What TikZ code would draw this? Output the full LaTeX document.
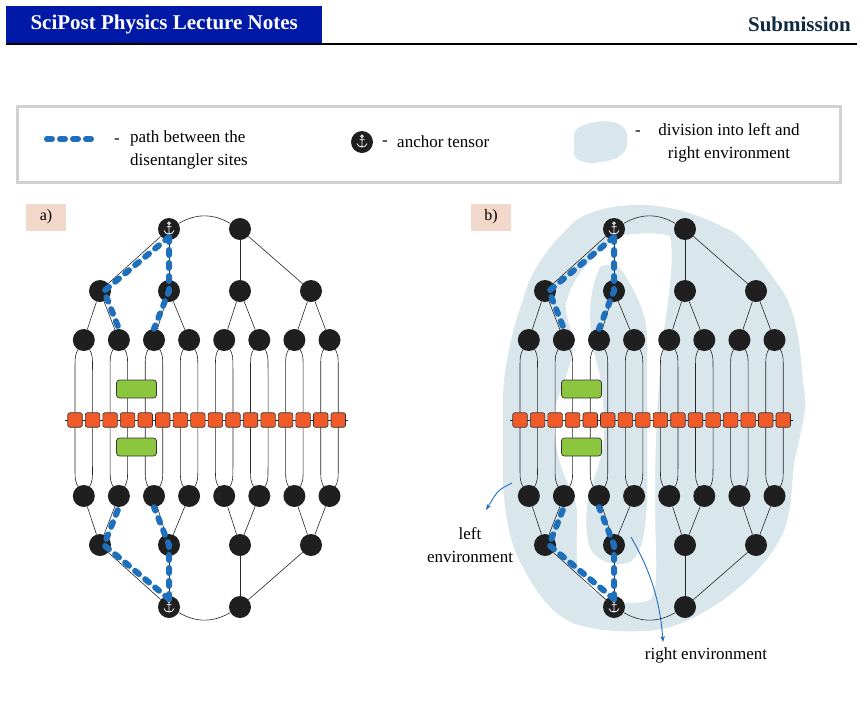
\documentclass[tikz,border=0pt]{standalone}
\usepackage{fontspec}
\setmainfont{Liberation Serif}
\usetikzlibrary{arrows.meta}
\begin{document}
\begin{tikzpicture}[x=1pt,y=-1pt,
  tn/.style={circle,fill=black!88,minimum size=22pt,inner sep=0pt},
  sq/.style={rounded corners=2pt,draw=black!80,line width=0.6pt,minimum size=14.5pt,inner sep=0pt},
  gb/.style={rounded corners=3pt,draw=black!80,line width=0.7pt,minimum width=40pt,minimum height=18pt,inner sep=0pt},
  edge/.style={black!85,line width=0.6pt},
  bp/.style={line width=6pt,color=bluep,dash pattern=on 5pt off 8pt,line cap=round},
  lab/.style={fill=pinkb,minimum width=40pt,minimum height=27pt,inner sep=0pt,font=\fontsize{16}{18}\selectfont},
  txt/.style={font=\fontsize{17}{23}\selectfont,inner sep=0pt},
  anchorpic/.pic={\draw[white,line width=0.8pt] (0,-5.8) circle(1.3) (0,-4.5)--(0,5.5) (-2.5,-2.3)--(2.5,-2.3) (-5,1.5) .. controls (-4.5,6) and (4.5,6) .. (5,1.5);}
]
\definecolor{bluep}{HTML}{1F70BC}
\definecolor{pinkb}{HTML}{F2D7CB}
\definecolor{envc}{HTML}{D9E6EC}
\definecolor{hdr}{HTML}{0019A6}
\definecolor{subc}{HTML}{102A43}
\definecolor{sqc}{HTML}{F05A28}
\definecolor{grc}{HTML}{8CC63F}
\tikzset{sq/.append style={fill=sqc},gb/.append style={fill=grc}}
\useasboundingbox[fill=white] (0,0) rectangle (863,702);
% header
\node[fill=hdr,minimum width=316pt,minimum height=37pt,inner sep=0pt,anchor=north west,text=white,font=\fontsize{21}{23}\bfseries] (hd) at (6,6) {SciPost Physics Lecture Notes};
\draw[line width=1.5pt] (6,44) -- (857,44);
\node[anchor=east,text=subc,font=\fontsize{21}{23}\bfseries,inner sep=0pt] (sub) at (851,24) {Submission};
% legend
\node[draw=black!18,line width=2.5pt,minimum width=823pt,minimum height=76pt,anchor=north west,inner sep=0pt] (leg) at (16,105) {};
\coordinate (ls) at (47,139); \coordinate (le) at (92,139);
\draw[bp] (ls) -- (le);
\node[txt] (d1) at (117,141) {-};
\node[txt,anchor=west,align=left] (t1) at (130,150) {path between the\\disentangler sites};
\node[tn,minimum size=22pt] (lan) at (362,142) {};
\pic at (lan) {anchorpic};
\node[txt] (d2) at (385,143) {-};
\node[txt,anchor=west] (t2) at (397,142) {anchor tensor};
\fill[envc] (578,128) .. controls (595,118) and (625,118) .. (627,135) .. controls (630,152) and (620,160) .. (600,162) .. controls (585,165) and (572,160) .. (574,150) .. controls (576,140) and (570,135) .. (578,128);
\node[txt] (d3) at (638,133) {-};
\node[txt,align=center] (t3) at (729,143) {division into left and\\right environment};
% environment region b
\fill[envc] (640,205) .. controls (610,205) and (585,212) .. (573,223) .. controls (550,245) and (530,270) .. (523,300) .. controls (512,330) and (503,370) .. (503,400) .. controls (503,440) and (503,465) .. (503,483) .. controls (505,520) and (512,550) .. (523,567) .. controls (540,600) and (555,615) .. (573,623) .. controls (600,633) and (635,632) .. (657,630) .. controls (685,625) and (705,612) .. (723,600) .. controls (750,580) and (770,560) .. (783,533) .. controls (795,505) and (790,470) .. (797,450) .. controls (803,420) and (808,410) .. (803,383) .. controls (800,340) and (795,305) .. (777,283) .. controls (760,260) and (745,235) .. (723,227) .. controls (700,215) and (670,205) .. (640,205) -- cycle;
\fill[white] (623,235) .. controls (640,233) and (660,232) .. (670,236) .. controls (675,260) and (668,300) .. (664,330) .. controls (658,380) and (655,440) .. (655,500) .. controls (655,550) and (660,590) .. (650,600) .. controls (635,605) and (615,603) .. (605,597) .. controls (590,590) and (578,580) .. (577,560) .. controls (576,530) and (580,510) .. (573,495) .. controls (560,470) and (553,440) .. (554,420) .. controls (555,395) and (570,375) .. (573,350) .. controls (575,330) and (562,315) .. (567,300) .. controls (575,270) and (605,245) .. (623,235) -- cycle;
\fill[envc] (600,267) .. controls (610,262) and (620,266) .. (625,275) .. controls (640,300) and (648,320) .. (647,340) .. controls (647,400) and (648,460) .. (647,500) .. controls (646,530) and (642,555) .. (630,562) .. controls (615,568) and (595,560) .. (590,548) .. controls (584,530) and (586,505) .. (590,490) .. controls (597,470) and (604,455) .. (604,430) .. controls (604,400) and (602,380) .. (596,360) .. controls (590,335) and (585,300) .. (600,267) -- cycle;
% environment labels
\node[txt,align=center] (lenv) at (470,545) {left\\environment};
\coordinate (la1) at (512,483); \coordinate (la2) at (486,510);
\draw[bluep,line width=0.9pt,-{Stealth[length=6pt]}] (la1) .. controls (498,490) .. (la2);
\node[txt] (renv) at (706,655) {right environment};
\coordinate (ra1) at (631,537); \coordinate (ra2) at (663,642);
\draw[bluep,line width=0.9pt,-{Stealth[length=6pt]}] (ra1) .. controls (650,570) and (660,600) .. (ra2);
% panels
\foreach \p/\o in {a/0pt,b/445pt}{
\begin{scope}[xshift=\o]
\node[lab] (\p lab) at (46,217) {\p)};
\draw[edge] (65,420) -- (348,420);
\foreach \k in {0,...,7}{
  \pgfmathsetmacro\nx{83.8+35.1*\k}
  \pgfmathsetmacro\sl{75+35.1*\k}
  \pgfmathsetmacro\sr{\sl+17.55}
  \draw[edge] (\nx-5,348) .. controls (\sl,355) .. (\sl,372) -- (\sl,464) .. controls (\sl,481) .. (\nx-5,488);
  \draw[edge] (\nx+5,348) .. controls (\sr,355) .. (\sr,372) -- (\sr,464) .. controls (\sr,481) .. (\nx+5,488);
  \node[tn] (\p u\k) at (\nx,340) {};
  \node[tn] (\p d\k) at (\nx,496) {};
}
\foreach \k in {0,...,15}{ \node[sq] (\p s\k) at (75+17.55*\k,420) {}; }
\node[gb] (\p g1) at (136.5,389) {};
\node[gb] (\p g2) at (136.5,447) {};
\foreach \j/\x in {0/100,1/169,2/240,3/311}{
  \node[tn] (\p m\j) at (\x,291) {};
  \node[tn] (\p n\j) at (\x,545) {};
}
\node[tn] (\p t0) at (169,229) {};
\node[tn] (\p t1) at (240,229) {};
\node[tn] (\p b0) at (169,607) {};
\node[tn] (\p b1) at (240,607) {};
\foreach \j/\a/\b in {0/0/1,1/2/3,2/4/5,3/6/7}{
  \draw[edge] (\p m\j) -- (\p u\a); \draw[edge] (\p m\j) -- (\p u\b);
  \draw[edge] (\p n\j) -- (\p d\a); \draw[edge] (\p n\j) -- (\p d\b);
}
\draw[edge] (\p t0) -- (\p m0); \draw[edge] (\p t0) -- (\p m1);
\draw[edge] (\p t1) -- (\p m2); \draw[edge] (\p t1) -- (\p m3);
\draw[edge] (\p b0) -- (\p n0); \draw[edge] (\p b0) -- (\p n1);
\draw[edge] (\p b1) -- (\p n2); \draw[edge] (\p b1) -- (\p n3);
\draw[edge] (\p t0) to[bend left=30] (\p t1);
\draw[edge] (\p b0) to[bend right=30] (\p b1);
\pic at (\p t0) {anchorpic};
\pic at (\p b0) {anchorpic};
\draw[bp] ([yshift=-8pt]\p t0.center) -- ([xshift=4pt]\p m0.center) -- (\p u1.north);
\draw[bp] ([yshift=-8pt]\p t0.center) -- (\p m1.center) -- (\p u2.north);
\draw[bp] ([yshift=8pt]\p b0.center) -- ([xshift=4pt]\p n0.center) -- (\p d1.south);
\draw[bp] ([yshift=8pt]\p b0.center) -- (\p n1.center) -- (\p d2.south);
\end{scope}}
\end{tikzpicture}
\end{document}
